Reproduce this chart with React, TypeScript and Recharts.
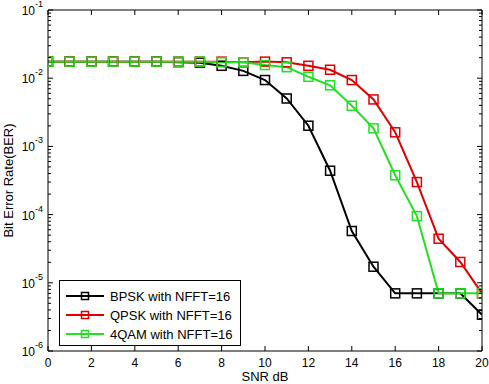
import React from 'react';
import { LineChart, Line, XAxis, YAxis, Legend } from 'recharts';

const FONT = '"Liberation Sans", Arial, Helvetica, sans-serif';

const snr = [0, 1, 2, 3, 4, 5, 6, 7, 8, 9, 10, 11, 12, 13, 14, 15, 16, 17, 18, 19, 20];
const bpsk = [0.0175, 0.0175, 0.0175, 0.0175, 0.0175, 0.0175, 0.0172, 0.0169, 0.0152, 0.0128, 0.0094, 0.00504, 0.00201, 0.00044, 0.0000575, 0.0000172, 0.000007, 0.000007, 0.000007, 0.000007, 0.0000034];
const qpsk = [0.0175, 0.0175, 0.0175, 0.0175, 0.0175, 0.0175, 0.0175, 0.0175, 0.0175, 0.0171, 0.0175, 0.0171, 0.0152, 0.0133, 0.0094, 0.00488, 0.00161, 0.0003, 0.0000443, 0.0000202, 0.000007];
const qam4 = [0.0175, 0.0175, 0.0175, 0.0175, 0.0175, 0.0175, 0.0175, 0.0175, 0.0171, 0.0171, 0.0156, 0.0145, 0.0105, 0.00787, 0.00394, 0.00184, 0.000377, 0.000095, 0.000007, 0.000007, 0.000007];

const seriesNames = ['BPSK with NFFT=16', 'QPSK with NFFT=16', '4QAM with NFFT=16'];
const seriesColors = ['#000000', '#e00000', '#22e022'];

const xTicks = [0, 2, 4, 6, 8, 10, 12, 14, 16, 18, 20];
const yMajor = [1e-6, 1e-5, 1e-4, 1e-3, 1e-2, 1e-1];
const minorFactors = [2, 3, 4, 5, 6, 7, 8, 9];
const yAllTicks: number[] = [];
yMajor.forEach((d, i) => {
  yAllTicks.push(d);
  if (i < yMajor.length - 1) minorFactors.forEach((k) => yAllTicks.push(k * d));
});

const data = snr.map((s, i) => ({ snr: s, bpsk: bpsk[i], qpsk: qpsk[i], qam: qam4[i] }));

const isMajor = (v: number) => yMajor.some((m) => Math.abs(m - v) / m < 1e-6);

const makeDot = (color: string, size: number) => (props: any) => {
  const { cx, cy, index } = props;
  if (cx == null || cy == null) return <g key={index} />;
  return (
    <rect key={index} x={cx - size / 2} y={cy - size / 2} width={size} height={size}
      fill="none" stroke={color} strokeWidth={1.5} />
  );
};

const LeftTick = (props: any) => {
  const { x, y, payload } = props;
  const major = isMajor(payload.value);
  const exp = Math.round(Math.log10(payload.value));
  return (
    <g>
      <line x1={x} x2={x + (major ? 5 : 3)} y1={y} y2={y} stroke="#000" strokeWidth={1} />
      {major ? (
        <text x={x - 5} y={y} textAnchor="end" fill="#000" fontSize={12} fontFamily={FONT}>
          <tspan dy={5}>10</tspan>
          <tspan fontSize={9} dy={-8}>{String(exp)}</tspan>
        </text>
      ) : null}
    </g>
  );
};

const RightTick = (props: any) => {
  const { x, y, payload } = props;
  const major = isMajor(payload.value);
  return <line x1={x} x2={x - (major ? 5 : 3)} y1={y} y2={y} stroke="#000" strokeWidth={1} />;
};

const BottomTick = (props: any) => {
  const { x, y, payload } = props;
  return (
    <g>
      <line x1={x} x2={x} y1={y} y2={y - 5} stroke="#000" strokeWidth={1} />
      <text x={x} y={y + 16} textAnchor="middle" fill="#000" fontSize={12} fontFamily={FONT}>
        {payload.value}
      </text>
    </g>
  );
};

const TopTick = (props: any) => {
  const { x, y } = props;
  return <line x1={x} x2={x} y1={y} y2={y + 5} stroke="#000" strokeWidth={1} />;
};

const LegendBox = (props: any) => {
  const payload = props.payload || [];
  return (
    <svg width={182} height={66} style={{ display: 'block' }}>
      <rect x={0.5} y={0.5} width={181} height={65} fill="#fff" stroke="#000" strokeWidth={1} />
      {payload.map((p: any, i: number) => {
        const cy = 16 + i * 19;
        return (
          <g key={i}>
            <line x1={7} x2={45} y1={cy} y2={cy} stroke={p.color} strokeWidth={2} />
            <rect x={26 - 3.5} y={cy - 3.5} width={7} height={7} fill="none" stroke={p.color} strokeWidth={1.5} />
            <text x={51} y={cy + 4.8} fontSize={13} fontFamily={FONT} fill="#000">{p.value}</text>
          </g>
        );
      })}
    </svg>
  );
};

export default function App() {
  return (
    <div style={{ position: 'absolute', left: 0, top: 0, background: '#fff' }}>
      <LineChart width={489} height={384} data={data} margin={{ top: 9, right: 6, bottom: 32, left: 47 }}>
        <XAxis xAxisId="b" dataKey="snr" type="number" domain={[0, 20]} ticks={xTicks} interval={0}
          allowDataOverflow height={1} tickSize={0} tickMargin={0}
          axisLine={{ stroke: '#000' }} tickLine={false} tick={<BottomTick />}
          label={(p: any) => {
            const vb = p.viewBox || {};
            return (
              <text x={vb.x + vb.width / 2} y={vb.y + 30} textAnchor="middle" fontSize={13} fontFamily={FONT} fill="#000">SNR dB</text>
            );
          }} />
        <XAxis xAxisId="t" orientation="top" dataKey="snr" type="number" domain={[0, 20]} ticks={xTicks} interval={0}
          allowDataOverflow height={1} tickSize={0} tickMargin={0}
          axisLine={{ stroke: '#000' }} tickLine={false} tick={<TopTick />} />
        <YAxis yAxisId="l" type="number" scale="log" domain={[1e-6, 1e-1]} ticks={yAllTicks} interval={0}
          allowDataOverflow width={1} tickSize={0} tickMargin={0}
          axisLine={{ stroke: '#000' }} tickLine={false} tick={<LeftTick />}
          label={(p: any) => {
            const vb = p.viewBox || {};
            const cx = 13;
            const cy = vb.y + vb.height / 2;
            return (
              <text x={cx} y={cy} transform={`rotate(-90, ${cx}, ${cy})`} textAnchor="middle" fontSize={13} fontFamily={FONT} fill="#000">Bit Error Rate(BER)</text>
            );
          }} />
        <YAxis yAxisId="r" orientation="right" type="number" scale="log" domain={[1e-6, 1e-1]} ticks={yAllTicks} interval={0}
          allowDataOverflow width={1} tickSize={0} tickMargin={0}
          axisLine={{ stroke: '#000' }} tickLine={false} tick={<RightTick />} />
        <Legend layout="vertical" align="center" verticalAlign="middle" content={<LegendBox />}
          itemSorter={(item: any) => seriesNames.indexOf(item.value)}
          wrapperStyle={{ position: 'absolute', left: 59, top: 280, width: 182, height: 66 }} />
        <Line xAxisId="b" yAxisId="l" dataKey="bpsk" name={seriesNames[0]} stroke={seriesColors[0]} strokeWidth={2}
          dot={makeDot(seriesColors[0], 9)} activeDot={false} isAnimationActive={false} />
        <Line xAxisId="b" yAxisId="l" dataKey="qpsk" name={seriesNames[1]} stroke={seriesColors[1]} strokeWidth={2}
          dot={makeDot(seriesColors[1], 9)} activeDot={false} isAnimationActive={false} />
        <Line xAxisId="b" yAxisId="l" dataKey="qam" name={seriesNames[2]} stroke={seriesColors[2]} strokeWidth={2}
          dot={makeDot(seriesColors[2], 9)} activeDot={false} isAnimationActive={false} />
      </LineChart>
    </div>
  );
}
